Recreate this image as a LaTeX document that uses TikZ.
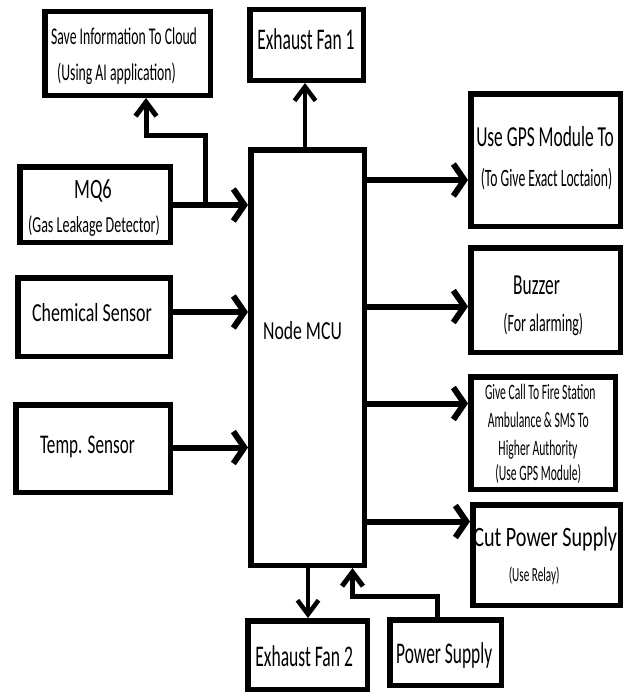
\documentclass[tikz,border=0pt]{standalone}
\usepackage{fontspec}
\setmainfont{Carlito}
\usepackage{graphicx}
\usetikzlibrary{arrows.meta}
\newcommand{\sqz}[3]{\scalebox{#2}[1]{\fontsize{#1pt}{#1pt}\selectfont #3}}
\tikzset{
  blk/.style={draw, line width=5.5pt, inner sep=0pt, outer sep=2.75pt, fill=white},
  lbl/.style={inner sep=0pt, outer sep=0pt, anchor=base},
  arrH/.style={line width=6pt, -{Straight Barb[length=11pt,width=32pt]}},
  arrV/.style={line width=4.5pt, -{Straight Barb[length=14pt,width=21pt]}},
}
\begin{document}
\begin{tikzpicture}[x=1pt,y=-1pt]
\useasboundingbox[fill=white] (0,0) rectangle (625,693);
% boxes
\node[blk, minimum width=165.5pt, minimum height=83.5pt] (cloud) at (127.5,53.5) {};
\node[blk, minimum width=113.5pt, minimum height=70.5pt] (fan1) at (306.5,45) {};
\node[blk, minimum width=150.5pt, minimum height=75.5pt] (mq6) at (95,204.5) {};
\node[blk, minimum width=152.5pt, minimum height=78.5pt] (chem) at (94,317) {};
\node[blk, minimum width=154.5pt, minimum height=87.5pt] (temp) at (93,448.5) {};
\node[blk, minimum width=113.5pt, minimum height=415.5pt] (mcu) at (307.5,357.5) {};
\node[blk, minimum width=149.5pt, minimum height=132.5pt] (gps) at (545.5,160) {};
\node[blk, minimum width=149.5pt, minimum height=104.5pt] (buz) at (545.5,300) {};
\node[blk, minimum width=144.5pt, minimum height=112.5pt] (call) at (543,433) {};
\node[blk, minimum width=147.5pt, minimum height=100.5pt] (cut) at (546.5,555) {};
\node[blk, minimum width=119.5pt, minimum height=68.5pt] (fan2) at (307.5,655) {};
\node[blk, minimum width=111.5pt, minimum height=65.5pt] (pwr) at (445.5,652.5) {};
% helper coordinates
\coordinate (jA) at (205,205);
\coordinate (bA) at (146,135);
\coordinate (yC) at (0,312);
\coordinate (yT) at (0,447.5);
\coordinate (yG) at (0,180);
\coordinate (yB) at (0,306.5);
\coordinate (yK) at (0,403.5);
\coordinate (yP) at (0,521.5);
\coordinate (xF1) at (305,0);
\coordinate (xF2) at (308,0);
\coordinate (pA) at (437.5,596);
\coordinate (pB) at (352.5,596);
% connectors
\draw[arrH] (mq6.east |- jA) -- (mcu.west |- jA);
\draw[arrV, line width=5pt] (jA) |- (bA) -- (cloud.south -| bA);
\draw[arrH] (chem.east |- yC) -- (mcu.west |- yC);
\draw[arrH] (temp.east |- yT) -- (mcu.west |- yT);
\draw[arrV] (mcu.north -| xF1) -- (fan1.south -| xF1);
\draw[arrH] (mcu.east |- yG) -- (gps.west |- yG);
\draw[arrH] (mcu.east |- yB) -- (buz.west |- yB);
\draw[arrH] (mcu.east |- yK) -- (call.west |- yK);
\draw[arrH] (mcu.east |- yP) -- (cut.west |- yP);
\draw[arrV] (mcu.south -| xF2) -- (fan2.north -| xF2);
\draw[arrV, line width=5pt] (pwr.north -| pA) -- (pA) -- (pB) -- (mcu.south -| pB);
% labels
\node[lbl] (tcloud1) at (124,45) {\sqz{24}{0.573}{Save Information To Cloud}};
\node[lbl] (tcloud2) at (116.5,81) {\sqz{24}{0.573}{(Using AI application)}};
\node[lbl] (tfan1) at (306,49.5) {\sqz{30}{0.583}{Exhaust Fan 1}};
\node[lbl] (tmq1) at (93,198) {\sqz{28}{0.66}{MQ6}};
\node[lbl] (tmq2) at (94,232) {\sqz{23}{0.61}{(Gas Leakage Detector)}};
\node[lbl] (tchem) at (92,321) {\sqz{26}{0.69}{Chemical Sensor}};
\node[lbl] (ttemp) at (87.5,453) {\sqz{27}{0.635}{Temp. Sensor}};
\node[lbl] (tmcu) at (302.5,339) {\sqz{26}{0.68}{Node MCU}};
\node[lbl] (tgps1) at (545,146.5) {\sqz{29}{0.60}{Use GPS Module To}};
\node[lbl] (tgps2) at (546.5,186.5) {\sqz{25}{0.547}{(To Give Exact Loctaion)}};
\node[lbl] (tbuz1) at (536.5,294) {\sqz{29}{0.60}{Buzzer}};
\node[lbl] (tbuz2) at (543.3,331.5) {\sqz{25}{0.558}{(For alarming)}};
\node[lbl] (tcall1) at (540.3,399.3) {\sqz{22}{0.53}{Give Call To Fire Station}};
\node[lbl] (tcall2) at (538.3,427.7) {\sqz{22}{0.53}{Ambulance \& SMS To}};
\node[lbl] (tcall3) at (538,455) {\sqz{22}{0.53}{Higher Authority}};
\node[lbl] (tcall4) at (538.3,480) {\sqz{22}{0.53}{(Use GPS Module)}};
\node[lbl] (tcut1) at (545.2,546.7) {\sqz{28}{0.72}{Cut Power Supply}};
\node[lbl] (tcut2) at (534.2,581.7) {\sqz{20}{0.56}{(Use Relay)}};
\node[lbl] (tfan2) at (304.2,666.7) {\sqz{30}{0.585}{Exhaust Fan 2}};
\node[lbl] (tpwr) at (444.2,663.3) {\sqz{30}{0.58}{Power Supply}};
\end{tikzpicture}
\end{document}
